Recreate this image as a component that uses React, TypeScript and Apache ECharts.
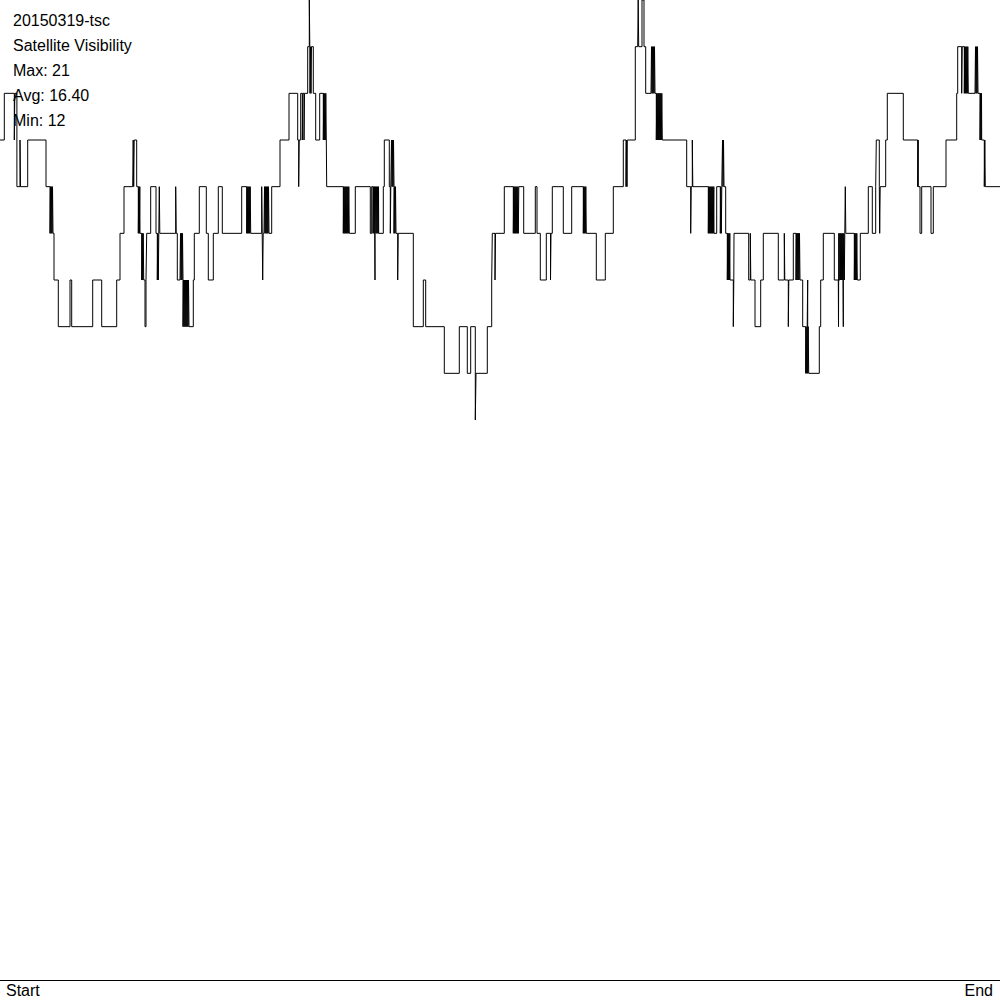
import React, { useEffect, useRef } from 'react';
import * as echarts from 'echarts';

// Header text lines (top-left)
const headerLines = ['20150319-tsc', 'Satellite Visibility', 'Max: 21', 'Avg: 16.40', 'Min: 12'];
// x axis end labels
const xEndLabels = ['Start', 'End'];
const timeMin = 0;
const timeMax = 1000;
const levelMin = 0;
const levelMax = 21;

// Change points: [time, number of visible satellites from that time on]
const changePoints: [number, number][] = [
  [0, 18], [4.3, 19], [14.3, 18], [14.8, 19], [16.9, 17], [20, 18], [20.5, 17], [27.7, 18], [46, 17],
  [53.3, 16], [54, 15], [58.3, 14], [70, 15], [71.7, 14], [92.7, 15], [101.7, 14], [116.7, 15], [120, 16],
  [124, 17], [134.3, 18], [136.7, 17], [140, 16], [144, 15], [145, 14], [146, 15], [146.7, 16], [150.7, 17],
  [156, 16], [159.3, 17], [159.8, 16],
  [175.7, 17], [176.2, 16], [177.3, 15], [189, 14], [193.3, 15], [194.3, 16], [199.3, 17], [206.3, 16],
  [208.3, 15], [213.3, 16], [218.3, 17], [222.3, 16], [241.7, 17], [250.7, 16], [261.7, 17], [262.2, 16],
  [262.7, 15], [263.2, 16], [269, 16], [271.7, 17], [280, 18], [289, 19], [297.7, 18], [298.7, 17],
  [299.2, 18], [300.7, 19], [302.3, 18], [302.8, 19], [304, 18], [304.5, 19], [307.7, 20], [309.3, 21],
  [309.8, 20], [312, 20], [313.3, 19], [315.7, 18], [319.7, 19], [326.7, 17],
  [349.3, 16], [355.3, 17], [370.3, 16], [371.7, 17], [375, 15], [375.5, 16], [378.7, 16], [383.3, 17],
  [384.3, 18], [389.3, 17], [390.3, 16], [390.8, 17], [396, 16], [397.7, 15], [398.2, 16], [413.3, 14],
  [423.3, 15], [425.7, 14], [444.3, 13], [459.3, 14], [467.3, 13], [470.7, 14], [475.3, 12], [476, 13],
  [487.3, 14], [491.7, 15], [492.3, 16], [495, 15], [495.5, 16],
  [504.3, 17], [519, 17], [523.7, 16], [535.3, 17], [537, 16], [540.3, 15], [546.3, 16], [550.5, 15],
  [551, 16], [552.3, 17], [563.3, 16], [571.7, 17], [586.7, 16], [596.3, 15], [605.3, 16], [613.3, 17],
  [623.3, 18], [627.3, 18], [635.3, 20], [639, 20], [642, 21], [644, 20], [645.7, 19], [655, 19], [662.7, 18],
  [686.7, 17], [690.7, 16], [691.2, 17], [692.3, 18], [692.8, 17], [714, 16], [716.7, 17], [724, 17],
  [725.7, 16], [730, 15], [733.3, 14], [733.8, 15], [734, 16], [748.7, 15], [750.3, 16], [750.8, 15],
  [755, 14], [760.7, 15], [763.3, 16], [778.3, 15], [784.3, 16], [784.8, 15], [788.3, 14], [788.8, 15],
  [793.3, 16], [800, 15], [802.7, 14], [807.7, 15], [808.2, 13], [809, 13], [819.3, 14], [820.7, 15], [823.3, 16],
  [834.3, 15], [838.5, 14], [839, 15], [843.3, 14], [843.8, 15], [845, 16], [845.3, 17], [845.8, 16],
  [857.3, 15], [860.3, 16], [868.3, 17], [872.3, 16], [875.7, 17], [876.3, 18], [879.3, 17], [880.7, 17],
  [885.7, 18], [887.3, 19], [903.3, 18], [918.3, 17], [920, 16], [921.7, 17], [931, 16], [933.3, 17],
  [946, 18], [956.7, 19], [957.7, 20], [961.7, 19], [962.2, 20], [968.3, 19], [978.3, 19], [981.7, 18],
  [985.7, 17],
];

// Dense toggling regions (solid black blocks): [from, to, lower level, upper level]
const toggleRegions: [number, number, number, number][] = [
  [50, 53.3, 16, 17], [132.7, 134.3, 17, 18], [138.3, 140, 16, 17], [141.7, 144, 15, 16],
  [157.3, 159.3, 15, 16], [180, 183, 15, 16], [183, 189, 14, 15], [246.7, 250.7, 16, 17],
  [264, 269, 16, 17], [310, 312, 19, 20], [323.3, 326.7, 18, 19], [343.3, 349.3, 16, 17],
  [373, 378.7, 16, 17], [391, 394, 17, 18], [394, 396, 16, 17], [513.3, 519, 16, 17],
  [583.3, 586.7, 16, 17], [626, 627.3, 17, 18], [637.7, 639, 20, 21], [651, 655, 19, 20],
  [656.3, 662.7, 18, 19], [708.3, 714, 16, 17], [720.3, 722, 16, 17], [722, 724, 17, 18],
  [727.3, 730, 15, 16], [796, 800, 15, 16], [805.7, 809, 13, 14], [838.3, 845, 15, 16],
  [854.3, 857.3, 15, 16], [879.7, 880.7, 16, 17], [917.7, 918.3, 17, 18], [964.3, 968.3, 19, 20],
  [975, 978.3, 19, 20], [980, 981.7, 18, 19], [984.3, 985.7, 17, 18],
];

function baseLevelAt(t: number): number {
  let v = changePoints[0][1];
  for (const [ct, cv] of changePoints) {
    if (ct <= t + 1e-9) v = cv;
    else break;
  }
  return v;
}

function buildSeries(): [number, number][] {
  const events: { t: number; v: number; o: number }[] = [];
  let order = 0;
  for (const [t, v] of changePoints) events.push({ t, v, o: order++ });
  for (const [a, b, lo, hi] of toggleRegions) {
    let i = 0;
    for (let t = a; t < b - 1e-6; t += 0.5) {
      events.push({ t, v: i % 2 === 0 ? lo : hi, o: order++ });
      i++;
    }
    events.push({ t: b, v: baseLevelAt(b), o: order++ });
  }
  events.sort((p, q) => (p.t - q.t) || (p.o - q.o));
  const data: [number, number][] = events.map((e) => [e.t, e.v]);
  data.push([timeMax, data[data.length - 1][1]]);
  return data;
}

const FONT = '"Liberation Sans", Arial, Helvetica, sans-serif';

export default function App() {
  const ref = useRef<HTMLDivElement>(null);
  useEffect(() => {
    if (!ref.current) return;
    const chart = echarts.init(ref.current, undefined, { renderer: 'svg' });
    const data = buildSeries();
    chart.setOption({
      animation: false,
      grid: { left: 0, right: 0, top: 0, bottom: 20, containLabel: false },
      xAxis: {
        type: 'value',
        min: timeMin,
        max: timeMax,
        interval: timeMax - timeMin,
        axisLine: { show: true, lineStyle: { color: '#000', width: 1 } },
        axisTick: { show: false },
        splitLine: { show: false },
        axisLabel: {
          formatter: (v: number) => (v === timeMin ? xEndLabels[0] : v === timeMax ? xEndLabels[1] : ''),
          color: '#000',
          fontSize: 16,
          fontFamily: FONT,
          margin: 2,
          alignMinLabel: 'left',
          alignMaxLabel: 'right',
          padding: [0, 7, 0, 6],
        },
      },
      yAxis: { type: 'value', min: levelMin, max: levelMax, show: false },
      series: [
        {
          type: 'line',
          step: 'end',
          data,
          symbol: 'none',
          showSymbol: false,
          clip: false,
          lineStyle: { color: '#000', width: 1 },
        },
      ],
      graphic: headerLines.map((text, i) => ({
        type: 'text',
        x: 13,
        y: 20.5 + 25 * i,
        z: 100,
        style: { text, font: `16px ${FONT}`, fill: '#000', verticalAlign: 'middle' },
      })),
    });
    return () => chart.dispose();
  }, []);
  return <div ref={ref} style={{ position: 'absolute', left: 0, top: 0, width: 1000, height: 1000 }} />;
}
